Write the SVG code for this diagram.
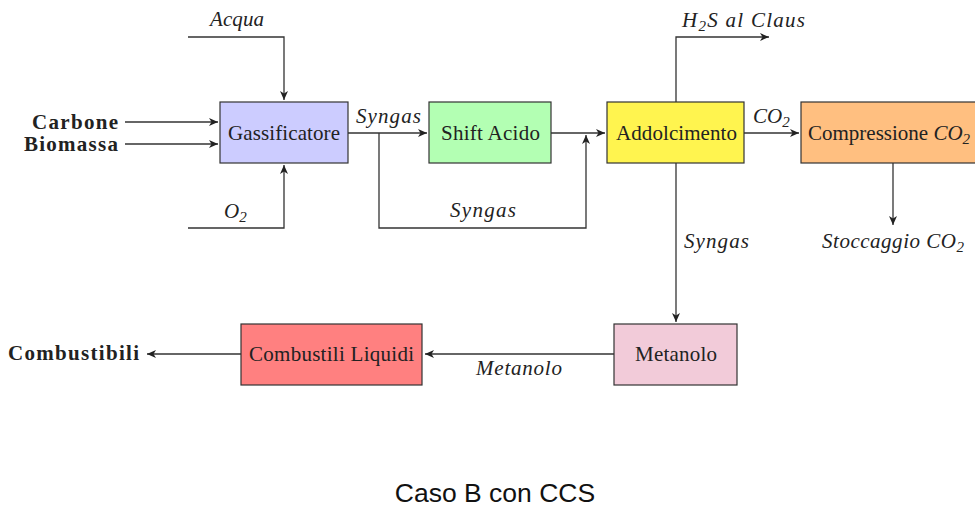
<svg xmlns="http://www.w3.org/2000/svg" width="975" height="507" viewBox="0 0 975 507">
<defs>
<marker id="ah" markerWidth="10" markerHeight="8" refX="9" refY="4" orient="auto" markerUnits="userSpaceOnUse">
<path d="M0,0 L9,4 L0,8 L2.5,4 Z" fill="#222"/>
</marker>
</defs>
<style>
.box{stroke:#333;stroke-width:1.2}
.t{font-family:"Liberation Serif","DejaVu Serif",serif;font-size:21px;fill:#222}
.i{font-style:italic}
.b{font-weight:bold}
.s{font-size:15px}
.c{fill:none;stroke:#333;stroke-width:1.3}
.cap{font-family:"Liberation Sans",Arial,sans-serif;font-size:26.5px;fill:#111}
</style>
<rect width="975" height="507" fill="#fff"/>
<g id="connectors">
<path class="c" d="M125,122 H218" marker-end="url(#ah)"/>
<path class="c" d="M125,144 H218" marker-end="url(#ah)"/>
<path class="c" d="M188,37 H284 V100" marker-end="url(#ah)"/>
<path class="c" d="M188,228 H284 V165" marker-end="url(#ah)"/>
<path class="c" d="M348,133 H427" marker-end="url(#ah)"/>
<path class="c" d="M379,133 V228 H586 V135" marker-end="url(#ah)"/>
<path class="c" d="M551,133 H605" marker-end="url(#ah)"/>
<path class="c" d="M676,102 V37 H769" marker-end="url(#ah)"/>
<path class="c" d="M744,133 H799" marker-end="url(#ah)"/>
<path class="c" d="M893,163 V225" marker-end="url(#ah)"/>
<path class="c" d="M676,163 V322" marker-end="url(#ah)"/>
<path class="c" d="M614,354 H425" marker-end="url(#ah)"/>
<path class="c" d="M241,354 H147" marker-end="url(#ah)"/>
</g>
<g id="labels">
<text class="t i" x="210" y="26" textLength="54">Acqua</text>
<text class="t i" x="224" y="218">O<tspan class="s" dy="4">2</tspan></text>
<text class="t b" x="32" y="129" textLength="86">Carbone</text>
<text class="t b" x="24" y="151" textLength="94">Biomassa</text>
<text class="t i" x="356" y="123" textLength="65">Syngas</text>
<text class="t i" x="450" y="217" textLength="66">Syngas</text>
<text class="t i" x="682" y="27" textLength="123">H<tspan class="s" dy="4">2</tspan><tspan dy="-4">S al Claus</tspan></text>
<text class="t i" x="753" y="123">CO<tspan class="s" dy="4">2</tspan></text>
<text class="t i" x="822" y="248" textLength="142">Stoccaggio CO<tspan class="s" dy="4">2</tspan></text>
<text class="t i" x="684" y="248" textLength="65">Syngas</text>
<text class="t i" x="476" y="375" textLength="86">Metanolo</text>
<text class="t b" x="8" y="360" textLength="131">Combustibili</text>
</g>
<g id="gassificatore">
<rect class="box" x="220" y="102" width="128" height="61" fill="#ccccff"/>
<text class="t" x="228" y="140" textLength="112">Gassificatore</text>
</g>
<g id="shift">
<rect class="box" x="429" y="102" width="122" height="61" fill="#b3ffb3"/>
<text class="t" x="441" y="140" textLength="99">Shift Acido</text>
</g>
<g id="addolcimento">
<rect class="box" x="607" y="102" width="137" height="61" fill="#fff44f"/>
<text class="t" x="616" y="140" textLength="121">Addolcimento</text>
</g>
<g id="compressione">
<rect class="box" x="801" y="102" width="190" height="61" fill="#ffbf80"/>
<text class="t" x="808" y="140">Compressione <tspan class="i">CO</tspan><tspan class="i s" dy="4">2</tspan></text>
</g>
<g id="metanolo">
<rect class="box" x="614" y="324" width="123" height="61" fill="#f2cbd9"/>
<text class="t" x="635" y="361" textLength="82">Metanolo</text>
</g>
<g id="combustili">
<rect class="box" x="241" y="324" width="181" height="61" fill="#ff8080"/>
<text class="t" x="249" y="361" textLength="165">Combustili Liquidi</text>
</g>
<text class="cap" x="495" y="502" text-anchor="middle">Caso B con CCS</text>
</svg>
